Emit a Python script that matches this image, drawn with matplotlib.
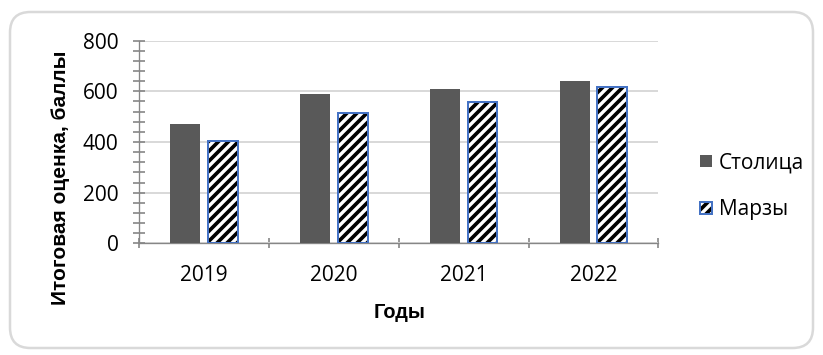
import matplotlib.pyplot as plt
from matplotlib.patches import FancyBboxPatch
from matplotlib.legend_handler import HandlerTuple
from matplotlib.ticker import MultipleLocator, FixedLocator

# Data
years = ["2019", "2020", "2021", "2022"]
capital = [471, 588, 608, 640]   # Столица
marzy = [402, 513, 558, 617]     # Марзы

plt.rcParams["hatch.linewidth"] = 2.2
plt.rcParams["font.family"] = ["Open Sans", "DejaVu Sans"]

DPI = 120
fig = plt.figure(figsize=(823 / DPI, 355 / DPI), dpi=DPI)
fig.patch.set_facecolor("white")

# rounded chart frame
frame = FancyBboxPatch((10 / DPI, 7 / DPI), 803 / DPI, 336 / DPI,
                       boxstyle="round,pad=0,rounding_size=0.17",
                       transform=fig.dpi_scale_trans, facecolor="none",
                       edgecolor="#d9d9d9", linewidth=1.5, zorder=-1)
fig.patches.append(frame)

ax = fig.add_axes([0.1693, 0.3146, 0.6306, 0.5708])
ax.set_facecolor("none")

x = list(range(len(years)))
w = 0.23
off = 0.145
b1 = ax.bar([i - off for i in x], capital, width=w, color="#595959", zorder=3)
b2 = ax.bar([i + off for i in x], marzy, width=w, color="white", hatch="////",
            edgecolor="black", linewidth=0, zorder=3)
b3 = ax.bar([i + off for i in x], marzy, width=w, fill=False,
            edgecolor="#4472c4", linewidth=1.2, zorder=4)

ax.set_xlim(-0.5, 3.5)
ax.set_ylim(0, 800)
ax.yaxis.set_major_locator(MultipleLocator(200))
ax.yaxis.set_minor_locator(MultipleLocator(40))
ax.set_xticks(x)
ax.set_xticklabels(years)
ax.xaxis.set_minor_locator(FixedLocator([-0.5, 0.5, 1.5, 2.5, 3.5]))
ax.tick_params(axis="x", which="major", length=0, pad=13, labelsize=12.5)
ax.tick_params(axis="x", which="minor", direction="inout", length=6,
               width=1, color="#868686")
ax.tick_params(axis="y", which="both", direction="inout", length=7,
               width=1, color="#868686", pad=9, labelsize=12.5)

ax.grid(axis="y", which="major", color="#d9d9d9", linewidth=1.2, zorder=0)
for s in ["top", "right"]:
    ax.spines[s].set_visible(False)
for s in ["left", "bottom"]:
    ax.spines[s].set_color("#868686")

fig.text(0.073, 0.50, "Итоговая оценка, баллы", rotation=90, ha="center",
         va="center", fontsize=12.5, fontweight="bold",
         family=["Liberation Sans", "DejaVu Sans"])
fig.text(0.485, 0.121, "Годы", ha="center", va="center", fontsize=12,
         fontweight="bold", family=["Liberation Sans", "DejaVu Sans"])

fig.legend([b1, (b2, b3)], ["Столица", "Марзы"],
           handler_map={tuple: HandlerTuple(ndivide=1, pad=0)},
           loc="center left", bbox_to_anchor=(0.828, 0.475), frameon=False,
           fontsize=12.5, handlelength=0.55, handleheight=0.55,
           handletextpad=0.35, labelspacing=1.25)

fig.savefig("out.png", dpi=DPI)
